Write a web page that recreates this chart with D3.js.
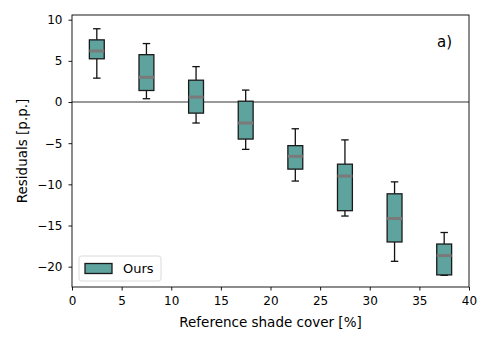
<!DOCTYPE html>
<html>
<head>
<meta charset="utf-8">
<script src="https://cdn.jsdelivr.net/npm/d3@7"></script>
<style>
  body { margin: 0; background: #fff; }
  svg { font-family: "DejaVu Sans", sans-serif; }
</style>
</head>
<body>
<svg id="chart" width="493" height="345"></svg>
<script>
// shade cover bin centres [%]
const centers = [2.5, 7.5, 12.5, 17.5, 22.5, 27.5, 32.5, 37.5];
// box statistics per bin, residuals [p.p.]
const whiskLow = [2.9, 0.4, -2.55, -5.75, -9.6, -13.85, -19.35, -21.05];
const q1 = [5.25, 1.4, -1.35, -4.5, -8.15, -13.2, -17.0, -21.0];
const medians = [6.2, 3.0, 0.6, -2.55, -6.6, -9.0, -14.15, -18.65];
const q3 = [7.55, 5.75, 2.65, 0.1, -5.3, -7.55, -11.15, -17.25];
const whiskHigh = [8.9, 7.1, 4.3, 1.45, -3.25, -4.6, -9.7, -15.85];
const xTicks = [0, 5, 10, 15, 20, 25, 30, 35, 40];
const yTicks = [10, 5, 0, -5, -10, -15, -20];

const svg = d3.select('#chart');
const margin = { left: 72, right: 24, top: 15, bottom: 58 };
const width = 493, height = 345;

const x = d3.scaleLinear().domain([0, 40]).range([margin.left, width - margin.right]);
const y = d3.scaleLinear().domain([-22.47, 10.57]).range([height - margin.bottom, margin.top]);

const fill = '#5fa39e';
const boxW = 1.5;

const boxes = centers.map((c, i) => ({
  c, lo: whiskLow[i], q1: q1[i], med: medians[i], q3: q3[i], hi: whiskHigh[i]
}));

// zero line
svg.append('line')
  .attr('x1', x(0)).attr('x2', x(40))
  .attr('y1', y(0)).attr('y2', y(0))
  .attr('stroke', '#999999').attr('stroke-width', 2);

const g = svg.append('g').selectAll('g').data(boxes).enter().append('g');

// whiskers
g.append('line')
  .attr('x1', d => x(d.c)).attr('x2', d => x(d.c))
  .attr('y1', d => y(d.hi)).attr('y2', d => y(d.q3))
  .attr('stroke', '#111').attr('stroke-width', 1.3);
g.append('line')
  .attr('x1', d => x(d.c)).attr('x2', d => x(d.c))
  .attr('y1', d => y(d.q1)).attr('y2', d => y(d.lo))
  .attr('stroke', '#111').attr('stroke-width', 1.3);
// caps
['hi', 'lo'].forEach(k => {
  g.append('line')
    .attr('x1', d => x(d.c - 0.375)).attr('x2', d => x(d.c + 0.375))
    .attr('y1', d => y(d[k])).attr('y2', d => y(d[k]))
    .attr('stroke', '#111').attr('stroke-width', 1.3);
});
// boxes
g.append('rect')
  .attr('x', d => x(d.c - boxW / 2))
  .attr('width', d => x(d.c + boxW / 2) - x(d.c - boxW / 2))
  .attr('y', d => y(d.q3))
  .attr('height', d => y(d.q1) - y(d.q3))
  .attr('fill', fill)
  .attr('stroke', '#1a1a1a').attr('stroke-width', 1.3);
// medians
g.append('line')
  .attr('x1', d => x(d.c - boxW / 2)).attr('x2', d => x(d.c + boxW / 2))
  .attr('y1', d => y(d.med)).attr('y2', d => y(d.med))
  .attr('stroke', '#7a7a7a').attr('stroke-width', 3);

// axes
const xAxis = svg.append('g')
  .attr('transform', `translate(0,${height - margin.bottom})`)
  .call(d3.axisBottom(x).tickValues(xTicks).tickSize(3.5).tickPadding(6).tickSizeOuter(0));
const yAxis = svg.append('g')
  .attr('transform', `translate(${margin.left},0)`)
  .call(d3.axisLeft(y).tickValues(yTicks).tickSize(3.5).tickPadding(6).tickSizeOuter(0)
    .tickFormat(d => d < 0 ? '\u2212' + Math.abs(d) : d));
[xAxis, yAxis].forEach(a => {
  a.select('.domain').remove();
  a.selectAll('line').attr('stroke', '#000').attr('stroke-width', 0.9);
  a.selectAll('text').attr('fill', '#000').attr('font-size', 12)
    .attr('font-family', '"DejaVu Sans", sans-serif');
});

// frame
svg.append('rect')
  .attr('x', margin.left).attr('y', margin.top)
  .attr('width', width - margin.left - margin.right)
  .attr('height', height - margin.bottom - margin.top)
  .attr('fill', 'none').attr('stroke', '#000').attr('stroke-width', 0.9);

// labels
svg.append('text')
  .attr('x', x(20)).attr('y', 327)
  .attr('text-anchor', 'middle').attr('font-size', 13.5)
  .text('Reference shade cover [%]');
svg.append('text')
  .attr('transform', `translate(27,${y((10.57 - 22.47) / 2)}) rotate(-90)`)
  .attr('text-anchor', 'middle').attr('font-size', 13.5)
  .text('Residuals [p.p.]');
svg.append('text')
  .attr('x', 452).attr('y', 47)
  .attr('text-anchor', 'end').attr('font-size', 15)
  .text('a)');

// legend
const leg = svg.append('g');
leg.append('rect')
  .attr('x', 79).attr('y', 256).attr('width', 82).attr('height', 25)
  .attr('rx', 2.5).attr('fill', '#fff').attr('fill-opacity', 0.8)
  .attr('stroke', '#d6d6d6').attr('stroke-width', 0.9);
leg.append('rect')
  .attr('x', 85).attr('y', 263.5).attr('width', 27).attr('height', 10)
  .attr('fill', fill).attr('stroke', '#1a1a1a').attr('stroke-width', 1.3);
leg.append('text')
  .attr('x', 123).attr('y', 273).attr('font-size', 13)
  .text('Ours');
</script>
</body>
</html>
